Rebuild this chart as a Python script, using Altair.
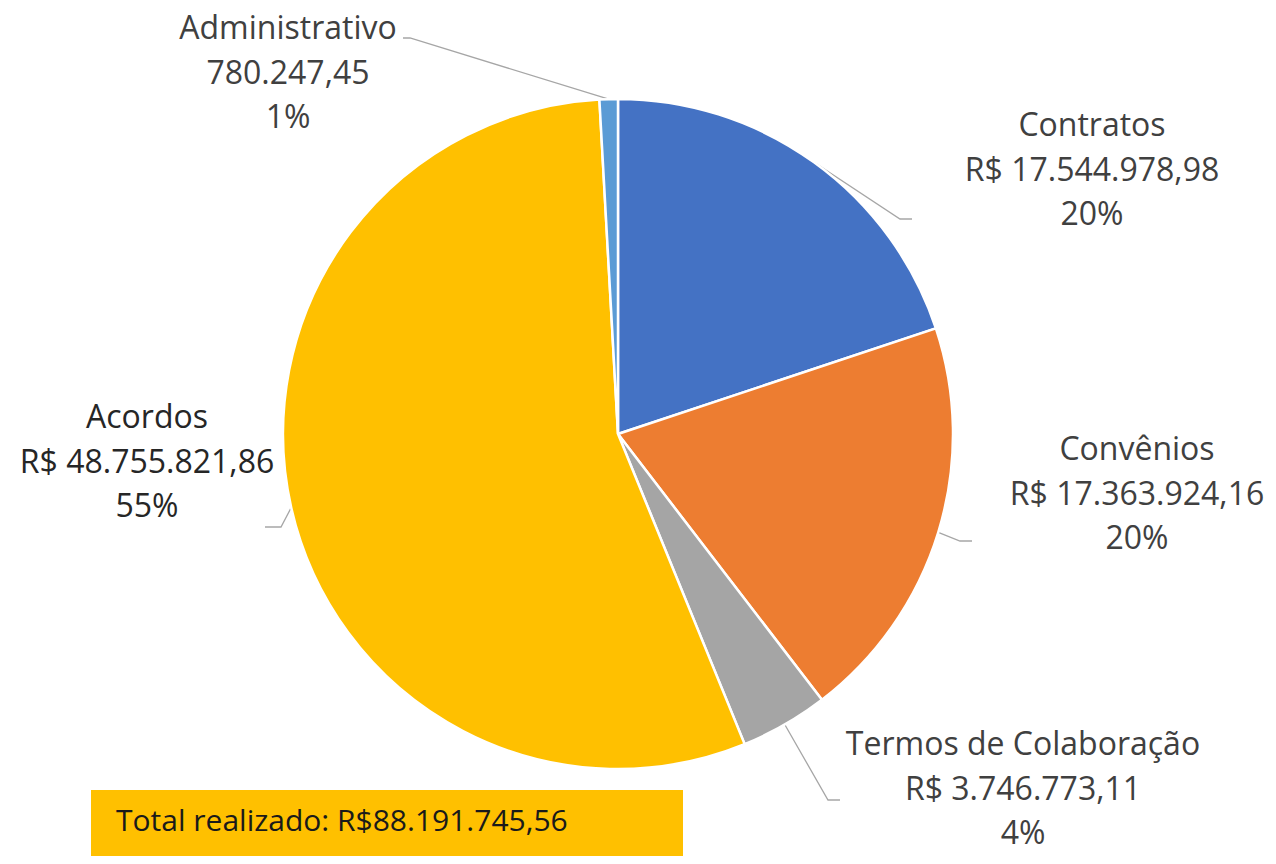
import math
import altair as alt
import pandas as pd

# ---- data ----
categories = ["Contratos", "Convênios", "Termos de Colaboração", "Acordos", "Administrativo"]
values = [17544978.98, 17363924.16, 3746773.11, 48755821.86, 780247.45]
prefixes = ["R$ ", "R$ ", "R$ ", "R$ ", ""]
colors = ["#4472C4", "#ED7D31", "#A5A5A5", "#FFC000", "#5B9BD5"]
total_label = "Total realizado: R$88.191.745,56"

# ---- layout (pixels in chart space) ----
CX, CY, R = 610, 426, 335
FONT = "Open Sans"
label_pos = {  # centre x, first-line y
    "Contratos": (1084, 118),
    "Convênios": (1129, 442),
    "Termos de Colaboração": (1015, 737),
    "Acordos": (139, 410),
    "Administrativo": (280, 21),
}
label_colors = {"Acordos": "#262626"}
leader_mid = {  # elbow and end points of leader lines
    "Contratos": [(892, 211), (904, 211)],
    "Convênios": [(952, 533), (964, 533)],
    "Termos de Colaboração": [(820, 792), (832, 792)],
    "Acordos": [(273, 519), (257, 519)],
    "Administrativo": [(402, 30), (395, 30)],
}


def br(v):
    s = f"{v:,.2f}"
    return s.replace(",", "X").replace(".", ",").replace("X", ".")


total = sum(values)
df = pd.DataFrame({
    "cat": categories,
    "value": values,
    "order": list(range(len(categories))),
})

pie = alt.Chart(df).mark_arc(outerRadius=R, stroke="white", strokeWidth=2.5).encode(
    theta=alt.Theta("value:Q", stack=True),
    order=alt.Order("order:Q"),
    color=alt.Color("cat:N", scale=alt.Scale(domain=categories, range=colors), legend=None),
    x=alt.value(CX),
    y=alt.value(CY),
)

# labels
lab_rows = []
cum = 0.0
line_rows = []
for c, v, p in zip(categories, values, prefixes):
    frac = v / total
    mid = (cum + frac / 2) * 2 * math.pi
    cum += frac
    lx, ly = label_pos[c]
    lab_rows.append({
        "cat": c,
        "text": f"{c}\n{p}{br(v)}\n{round(frac * 100):.0f}%",
        "x": lx, "y": ly,
        "col": label_colors.get(c, "#404040"),
    })
    sx = CX + R * math.sin(mid)
    sy = CY - R * math.cos(mid)
    pts = [(sx, sy)] + leader_mid[c]
    for i, (px, py) in enumerate(pts):
        line_rows.append({"cat": c, "i": i, "x": px, "y": py})

lab_df = pd.DataFrame(lab_rows)
line_df = pd.DataFrame(line_rows)

labels = alt.Chart(lab_df).mark_text(
    lineBreak="\n", lineHeight=44.5, fontSize=32, font=FONT, align="center", baseline="middle"
).encode(
    x=alt.X("x:Q", scale=None),
    y=alt.Y("y:Q", scale=None),
    text="text:N",
    color=alt.Color("col:N", scale=None),
)

leaders = alt.Chart(line_df).mark_line(color="#A6A6A6", strokeWidth=1.3).encode(
    x=alt.X("x:Q", scale=None),
    y=alt.Y("y:Q", scale=None),
    detail="cat:N",
    order="i:Q",
)

box = alt.Chart(pd.DataFrame({"t": [total_label]})).mark_rect(color="#FFC000").encode(
    x=alt.value(83), x2=alt.value(675), y=alt.value(782), y2=alt.value(860)
)
box_text = alt.Chart(pd.DataFrame({"t": [total_label]})).mark_text(
    fontSize=30, font=FONT, align="left", baseline="middle", color="#1a1a1a"
).encode(x=alt.value(108), y=alt.value(814), text="t:N")

chart = alt.layer(leaders, pie, labels, box, box_text).properties(
    width=1260, height=848, padding=0, autosize="none"
).configure_view(strokeWidth=0)

chart.save("out.html", embed_options={"renderer": "svg", "actions": False})
